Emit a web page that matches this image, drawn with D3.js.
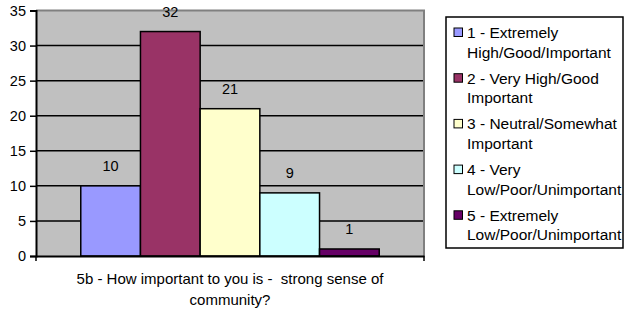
<!DOCTYPE html>
<html>
    <head>
        <meta charset="utf-8">
        <title>strong sense of community</title>
        <script src="https://d3js.org/d3.v7.min.js"></script>
        <style>
            body { margin: 0; background: white; }
            text { font-family: "Liberation Sans", Arial, sans-serif; fill: #000; white-space: pre; }
        </style>
    </head>
    <body>
    <script type="text/javascript">
        //chart data
        var category = "5b - How important to you is -  strong sense of community?";
        var titleLines = ["5b - How important to you is -  strong sense of", "community?"];
        var seriesNames = ["1 - Extremely High/Good/Important", "2 - Very High/Good Important",
                           "3 - Neutral/Somewhat Important", "4 - Very Low/Poor/Unimportant",
                           "5 - Extremely Low/Poor/Unimportant"];
        var legendLines = [["1 - Extremely", "High/Good/Important"],
                           ["2 - Very High/Good", "Important"],
                           ["3 - Neutral/Somewhat", "Important"],
                           ["4 - Very", "Low/Poor/Unimportant"],
                           ["5 - Extremely", "Low/Poor/Unimportant"]];
        var values = [10, 32, 21, 9, 1];
        var colors = ["#9999FF", "#993366", "#FFFFCC", "#CCFFFF", "#660066"];
        var yTicks = [0, 5, 10, 15, 20, 25, 30, 35];

        var size = {width: 626, height: 313};
        var plot = {left: 36, right: 424, top: 10.5, bottom: 256};

        var _svg = d3.select("body")
                     .append("svg")
                     .attr("width", size.width)
                     .attr("height", size.height);

        //scales
        var y = d3.scaleLinear().domain([0, 35]).range([plot.bottom, plot.top]);
        var x0 = d3.scaleBand().domain([category]).range([plot.left, plot.right]);
        //excel gap width 150% -> half a gap on each side = 0.75 bar
        var x1 = d3.scaleBand().domain(seriesNames)
                   .range([x0(category), x0(category) + x0.bandwidth()])
                   .paddingInner(0).paddingOuter(0.75);

        //plot area background
        _svg.append("rect")
            .attr("x", plot.left)
            .attr("y", plot.top)
            .attr("width", plot.right - plot.left)
            .attr("height", plot.bottom - plot.top)
            .attr("fill", "#C0C0C0");

        //grid lines
        _svg.append("g")
            .selectAll("line")
            .data(yTicks.filter(function(d){ return d > 0 && d < 35; }))
            .enter()
            .append("line")
            .attr("x1", plot.left)
            .attr("x2", plot.right)
            .attr("y1", function(d){ return y(d); })
            .attr("y2", function(d){ return y(d); })
            .attr("stroke", "#000")
            .attr("stroke-width", 1.5);

        //gray border top and right
        _svg.append("path")
            .attr("d", "M" + plot.left + "," + plot.top + " H" + plot.right + " V" + plot.bottom)
            .attr("fill", "none")
            .attr("stroke", "#808080")
            .attr("stroke-width", 2);

        //bars
        _svg.append("g")
            .selectAll("rect")
            .data(values)
            .enter()
            .append("rect")
            .attr("x", function(d, i){ return x1(seriesNames[i]); })
            .attr("y", function(d){ return y(d); })
            .attr("width", x1.bandwidth())
            .attr("height", function(d){ return y(0) - y(d); })
            .attr("fill", function(d, i){ return colors[i]; })
            .attr("stroke", "#000")
            .attr("stroke-width", 1.5);

        //value labels
        _svg.append("g")
            .selectAll("text")
            .data(values)
            .enter()
            .append("text")
            .attr("x", function(d, i){ return x1(seriesNames[i]) + x1.bandwidth() / 2; })
            .attr("y", function(d){ return y(d) - 14.5; })
            .attr("text-anchor", "middle")
            .attr("font-size", 14.5)
            .text(function(d){ return d; });

        //y axis
        var yAxis = d3.axisLeft(y).tickValues(yTicks).tickSize(6).tickPadding(4);
        var _gy = _svg.append("g")
                      .attr("transform", "translate(" + plot.left + ",0)")
                      .call(yAxis);
        _gy.select(".domain").attr("stroke", "#000").attr("stroke-width", 2);
        _gy.selectAll(".tick line").attr("stroke", "#000").attr("stroke-width", 1.5);
        _gy.selectAll(".tick text")
           .attr("font-size", 14.5)
           .attr("font-family", "Liberation Sans, Arial, sans-serif")
           .attr("fill", "#000");

        //x axis
        var xAxis = d3.axisBottom(x0).tickSize(0).tickFormat("");
        var _gx = _svg.append("g")
                      .attr("transform", "translate(0," + plot.bottom + ")")
                      .call(xAxis);
        _gx.select(".domain").attr("stroke", "#000").attr("stroke-width", 2);
        _gx.selectAll(".tick").remove();
        _gx.selectAll(".edge")
           .data([plot.left, plot.right])
           .enter()
           .append("line")
           .attr("x1", function(d){ return d; })
           .attr("x2", function(d){ return d; })
           .attr("y1", 0)
           .attr("y2", 5)
           .attr("stroke", "#000")
           .attr("stroke-width", 1.5);

        //category title
        _svg.append("g")
            .selectAll("text")
            .data(titleLines)
            .enter()
            .append("text")
            .attr("x", x0(category) + x0.bandwidth() / 2)
            .attr("y", function(d, i){ return 283.5 + i * 21.5; })
            .attr("text-anchor", "middle")
            .attr("font-size", 15)
            .text(function(d){ return d; });

        //legend
        var _lg = _svg.append("g");
        _lg.append("rect")
           .attr("x", 446)
           .attr("y", 17)
           .attr("width", 177)
           .attr("height", 231)
           .attr("fill", "white")
           .attr("stroke", "#000")
           .attr("stroke-width", 1.5);

        var _items = _lg.selectAll(".item")
                        .data(legendLines)
                        .enter()
                        .append("g")
                        .attr("class", "item")
                        .attr("transform", function(d, i){ return "translate(0," + (32.5 + i * 45.7) + ")"; });

        _items.append("rect")
              .attr("x", 454)
              .attr("y", -4.5)
              .attr("width", 8.5)
              .attr("height", 8.5)
              .attr("fill", function(d, i){ return colors[i]; })
              .attr("stroke", "#000")
              .attr("stroke-width", 1);

        _items.selectAll("text")
              .data(function(d){ return d; })
              .enter()
              .append("text")
              .attr("x", 467)
              .attr("y", function(d, j){ return 5.5 + j * 19.5; })
              .attr("font-size", 15.5)
              .text(function(d){ return d; });
    </script>
    </body>
</html>
